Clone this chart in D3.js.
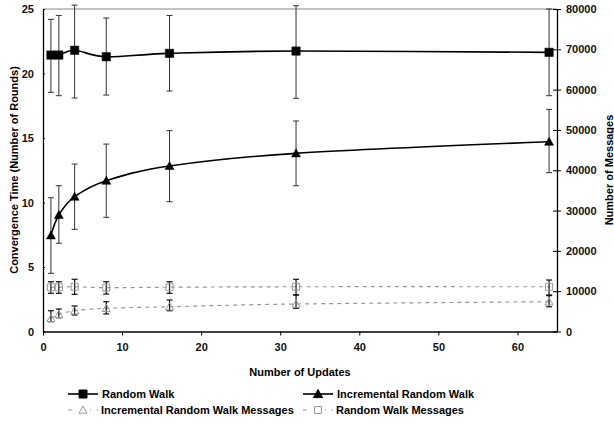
<!DOCTYPE html>
<html><head><meta charset="utf-8">
<script src="https://cdn.jsdelivr.net/npm/d3@7"></script>
<style>
body{margin:0;background:#fff;}
text{font-family:"Liberation Sans",Arial,sans-serif;font-weight:bold;}
</style></head>
<body><svg id="c" width="614" height="423"></svg>
<script>
const updates = [1, 2, 4, 8, 16, 32, 64];
// Convergence time (rounds) - left axis
const rwMean = [21.43, 21.43, 21.8, 21.3, 21.56, 21.74, 21.64];
const rwHigh = [24.2, 24.5, 25.3, 24.3, 24.5, 25.25, 25.0];
const rwLow  = [18.54, 18.28, 18.1, 18.33, 18.64, 18.08, 18.28];
const irwMean = [7.45, 9.03, 10.45, 11.69, 12.83, 13.81, 14.71];
const irwHigh = [10.37, 11.3, 12.98, 14.53, 15.57, 16.32, 17.22];
const irwLow  = [4.51, 6.84, 7.92, 8.85, 10.06, 11.3, 12.31];
// Number of messages - right axis
const rwmMean = [10980, 10980, 11100, 10880, 10980, 11100, 11100];
const rwmHigh = [12350, 12350, 12960, 12350, 12350, 12960, 12770];
const rwmLow  = [9470, 9470, 9220, 9280, 9470, 9060, 9060];
const irwmMean = [3260, 4260, 5150, 5760, 6140, 6820, 7390];
const irwmHigh = [5150, 5570, 6340, 7390, 7810, 9060, 8900];
const irwmLow  = [2430, 3420, 4100, 4350, 5150, 5760, 6140];

const xTicks = [0, 10, 20, 30, 40, 50, 60];
const yLeftTicks = [0, 5, 10, 15, 20, 25];
const yRightTicks = [0, 10000, 20000, 30000, 40000, 50000, 60000, 70000, 80000];

const L = 43, R = 557, T = 9, B = 331.5;
const svg = d3.select("#c");
const x = d3.scaleLinear().domain([0, 65]).range([L, R]);
const yL = d3.scaleLinear().domain([0, 25]).range([B, T]);
const yR = d3.scaleLinear().domain([0, 80000]).range([B, T]);

// top border
svg.append("line").attr("x1", L).attr("x2", R).attr("y1", T).attr("y2", T)
  .attr("stroke", "#888").attr("stroke-width", 1);

function styleAxis(g) {
  g.selectAll("path").attr("stroke", "#000").attr("stroke-width", 1.3);
  g.selectAll("line").attr("stroke", "#000");
  g.selectAll("text").attr("font-size", 11).attr("font-weight", "bold")
    .attr("font-family", "'Liberation Sans',Arial,sans-serif").attr("fill", "#111");
}

const gx = svg.append("g").attr("transform", `translate(0,${B})`)
  .call(d3.axisBottom(x).tickValues(xTicks).tickSize(4).tickSizeOuter(0).tickPadding(8));
styleAxis(gx);

const gl = svg.append("g").attr("transform", `translate(${L},0)`)
  .call(d3.axisLeft(yL).tickValues(yLeftTicks).tickSize(4).tickSizeOuter(0).tickPadding(5));
styleAxis(gl);
gl.selectAll(".tick line").attr("x2", 2);

const gr = svg.append("g").attr("transform", `translate(${R},0)`)
  .call(d3.axisRight(yR).tickValues(yRightTicks).tickFormat(d3.format("d")).tickSize(4).tickSizeOuter(0).tickPadding(5));
styleAxis(gr);
gr.selectAll(".tick line").attr("x1", -4);

// axis titles
svg.append("text").attr("x", 300).attr("y", 376).attr("text-anchor", "middle")
  .attr("font-size", 11).text("Number of Updates");
svg.append("text").attr("transform", `translate(17.5,170) rotate(-90)`).attr("text-anchor", "middle")
  .attr("font-size", 11).text("Convergence Time (Number of Rounds)");
svg.append("text").attr("transform", `translate(612.5,170) rotate(-90)`).attr("text-anchor", "middle")
  .attr("font-size", 11).text("Number of Messages");

const curve = d3.curveCardinal.tension(0);

function series(mean, hi, lo, ys, opt) {
  const pts = updates.map((u, i) => ({u, m: mean[i], h: hi[i], l: lo[i]}));
  const g = svg.append("g");
  g.append("path").datum(pts)
    .attr("d", d3.line().x(d => x(d.u)).y(d => ys(d.m)).curve(curve))
    .attr("fill", "none").attr("stroke", opt.lineColor).attr("stroke-width", opt.lineWidth)
    .attr("stroke-dasharray", opt.dash || null);
  const eb = g.selectAll("g.eb").data(pts).join("g").attr("class", "eb");
  eb.append("line").attr("x1", d => x(d.u)).attr("x2", d => x(d.u))
    .attr("y1", d => ys(d.h)).attr("y2", d => ys(d.l))
    .attr("stroke", opt.errColor).attr("stroke-width", opt.errWidth);
  [d => ys(d.h), d => ys(d.l)].forEach(f => {
    eb.append("line").attr("x1", d => x(d.u) - 3).attr("x2", d => x(d.u) + 3)
      .attr("y1", f).attr("y2", f).attr("stroke", opt.errColor).attr("stroke-width", opt.errWidth);
  });
  g.selectAll("path.mk").data(pts).join("path").attr("class", "mk")
    .attr("transform", d => `translate(${x(d.u)},${ys(d.m)})`)
    .attr("d", opt.marker)
    .attr("fill", opt.fill).attr("stroke", opt.mStroke).attr("stroke-width", opt.mWidth);
  if (opt.dot) {
    g.selectAll("circle.dt").data(pts).join("circle").attr("class", "dt")
      .attr("cx", d => x(d.u)).attr("cy", d => ys(d.m)).attr("r", 0.8).attr("fill", "#666");
  }
}

const sq = (s) => `M${-s},${-s}H${s}V${s}H${-s}Z`;
const tri = (s) => `M0,${-s}L${s},${s*0.8}L${-s},${s*0.8}Z`;

series(rwmMean, rwmHigh, rwmLow, yR, {lineColor: "#999", lineWidth: 1.2, dash: "4,4",
  errColor: "#111", errWidth: 1.2, marker: sq(3.5), fill: "none", mStroke: "#999", mWidth: 1, dot: true});
series(irwmMean, irwmHigh, irwmLow, yR, {lineColor: "#999", lineWidth: 1.2, dash: "4,4",
  errColor: "#111", errWidth: 1.2, marker: tri(4), fill: "none", mStroke: "#999", mWidth: 1});
series(rwMean, rwHigh, rwLow, yL, {lineColor: "#000", lineWidth: 1.6,
  errColor: "#333", errWidth: 1, marker: sq(4.2), fill: "#000", mStroke: "#000", mWidth: 0.5});
series(irwMean, irwHigh, irwLow, yL, {lineColor: "#000", lineWidth: 1.6,
  errColor: "#333", errWidth: 1, marker: tri(4.5), fill: "#000", mStroke: "#000", mWidth: 0.5});

// legend
const legend = [
  {label: "Random Walk", lx: 68, y: 394, solid: true, m: sq(4), fill: "#000", stroke: "#000"},
  {label: "Incremental Random Walk", lx: 303, y: 394, solid: true, m: tri(4.5), fill: "#000", stroke: "#000"},
  {label: "Incremental Random Walk Messages", lx: 68, y: 410, solid: false, m: tri(4), fill: "none", stroke: "#999"},
  {label: "Random Walk Messages", lx: 303, y: 410, solid: false, m: sq(3.5), fill: "none", stroke: "#999"}
];
const lg = svg.append("g").selectAll("g").data(legend).join("g")
  .attr("transform", d => `translate(${d.lx},${d.y})`);
lg.append("line").attr("x1", 0).attr("x2", 30).attr("y1", 0).attr("y2", 0)
  .attr("stroke", d => d.solid ? "#000" : "#999").attr("stroke-width", d => d.solid ? 1.6 : 1.2)
  .attr("stroke-dasharray", d => d.solid ? null : "4,5.5");
lg.append("rect").attr("x", 8).attr("y", -5).attr("width", 14).attr("height", 10)
  .attr("fill", "#fff").attr("opacity", d => d.solid ? 0 : 1);
lg.append("path").attr("transform", "translate(15,0)").attr("d", d => d.m)
  .attr("fill", d => d.fill).attr("stroke", d => d.stroke).attr("stroke-width", 1);
lg.append("text").attr("x", d => d.solid ? 34 : 33).attr("y", 4).attr("font-size", 11).text(d => d.label);
</script></body></html>
